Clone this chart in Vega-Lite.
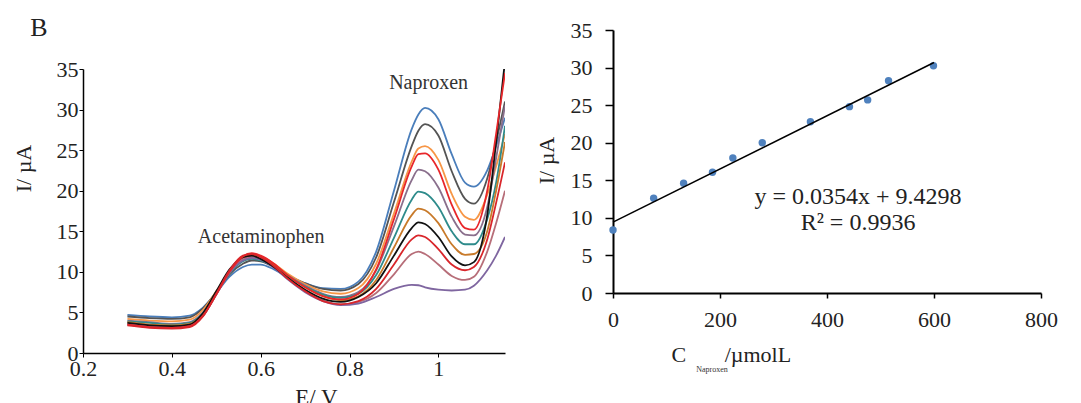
{
  "$schema": "https://vega.github.io/schema/vega-lite/v6.json",
  "padding": {"left": 12, "top": 15, "right": 5, "bottom": 0},
  "spacing": 30,
  "config": {
    "view": {"stroke": null},
    "font": "Liberation Serif",
    "text": {"font": "Liberation Serif"},
    "axis": {
      "grid": false,
      "domainColor": "#000",
      "tickColor": "#000",
      "labelColor": "#222",
      "titleColor": "#222",
      "labelFont": "Liberation Serif",
      "titleFont": "Liberation Serif",
      "titleFontWeight": "normal",
      "labelFontSize": 22,
      "titleFontSize": 22,
      "labelFlush": false,
      "labelOverlap": false,
      "labelSeparation": 0
    }
  },
  "hconcat": [
    {
      "spacing": 8,
      "vconcat": [
        {
          "width": 422,
          "height": 20,
          "data": {"values": [{"t": "B"}]},
          "mark": {"type": "text", "fontSize": 26, "color": "#222", "align": "center", "baseline": "middle", "dx": -255, "dy": -12},
          "encoding": {"text": {"field": "t"}}
        },
        {
          "width": 422,
          "height": 284,
          "encoding": {
            "x": {"field": "E", "type": "quantitative",
                  "scale": {"domain": [0.2, 1.15], "nice": false, "zero": false},
                  "axis": {"values": [0.2,0.4,0.6,0.8,1], "format": "~g", "title": "E/ V", "tickSize": 4, "labelPadding": 1, "domainWidth": 1.5, "labelOverlap": false,
                           "titleX": 233, "titleY": 44, "titleFontSize": 23, "titleBaseline": "middle", "titleAlign": "center"}},
            "y": {"field": "I", "type": "quantitative",
                  "scale": {"domain": [0, 35], "nice": false},
                  "axis": {"values": [0,5,10,15,20,25,30,35], "title": "I/ µA", "tickSize": 4, "labelPadding": 1, "domainWidth": 1.5, "labelOverlap": false,
                           "titleX": -60, "titleY": 99, "titleBaseline": "middle", "titleAlign": "center", "titleAngle": 270}}
          },
          "layer": [
            {
              "data": {"values": [
                {"E":0.30,"c600":4.7,"c515":4.5,"c475":4.2,"c440":3.5,"c370":4.0,"c280":3.9,"c225":3.8,"c185":3.7,"c130":3.4,"c75":3.6,"c0":3.5},
                {"E":0.35,"c600":4.5,"c515":4.3,"c475":4.0,"c440":3.2,"c370":3.8,"c280":3.7,"c225":3.5,"c185":3.4,"c130":3.1,"c75":3.3,"c0":3.2},
                {"E":0.40,"c600":4.4,"c515":4.2,"c475":3.9,"c440":3.1,"c370":3.6,"c280":3.5,"c225":3.4,"c185":3.3,"c130":3.0,"c75":3.2,"c0":3.1},
                {"E":0.44,"c600":4.6,"c515":4.4,"c475":4.1,"c440":3.3,"c370":3.8,"c280":3.7,"c225":3.6,"c185":3.5,"c130":3.2,"c75":3.4,"c0":3.3},
                {"E":0.47,"c600":5.6,"c515":5.5,"c475":5.3,"c440":4.6,"c370":5.0,"c280":4.9,"c225":4.8,"c185":4.9,"c130":4.5,"c75":4.6,"c0":4.6},
                {"E":0.50,"c600":7.4,"c515":7.5,"c475":7.6,"c440":7.2,"c370":7.4,"c280":7.3,"c225":7.4,"c185":7.6,"c130":7.3,"c75":7.2,"c0":7.2},
                {"E":0.53,"c600":9.4,"c515":9.7,"c475":10.0,"c440":10.0,"c370":9.9,"c280":9.8,"c225":10.0,"c185":10.3,"c130":10.2,"c75":10.0,"c0":9.9},
                {"E":0.56,"c600":10.6,"c515":11.0,"c475":11.6,"c440":11.9,"c370":11.4,"c280":11.3,"c225":11.7,"c185":11.8,"c130":12.0,"c75":11.6,"c0":11.4},
                {"E":0.58,"c600":10.9,"c515":11.4,"c475":12.1,"c440":12.3,"c370":11.8,"c280":11.6,"c225":12.1,"c185":12.0,"c130":12.2,"c75":11.9,"c0":11.7},
                {"E":0.60,"c600":10.9,"c515":11.3,"c475":11.9,"c440":12.0,"c370":11.6,"c280":11.4,"c225":11.8,"c185":11.6,"c130":11.8,"c75":11.6,"c0":11.5},
                {"E":0.63,"c600":10.3,"c515":10.6,"c475":11.0,"c440":11.0,"c370":10.8,"c280":10.6,"c225":10.9,"c185":10.6,"c130":10.7,"c75":10.6,"c0":10.5},
                {"E":0.66,"c600":9.4,"c515":9.6,"c475":9.8,"c440":9.6,"c370":9.6,"c280":9.5,"c225":9.6,"c185":9.3,"c130":9.2,"c75":9.2,"c0":9.1},
                {"E":0.70,"c600":8.6,"c515":8.6,"c475":8.5,"c440":8.1,"c370":8.3,"c280":8.2,"c225":8.1,"c185":7.8,"c130":7.6,"c75":7.6,"c0":7.5},
                {"E":0.74,"c600":8.0,"c515":7.9,"c475":7.6,"c440":7.0,"c370":7.3,"c280":7.2,"c225":7.0,"c185":6.7,"c130":6.4,"c75":6.5,"c0":6.4},
                {"E":0.78,"c600":7.9,"c515":7.7,"c475":7.3,"c440":6.6,"c370":6.9,"c280":6.8,"c225":6.5,"c185":6.3,"c130":6.0,"c75":6.0,"c0":5.9},
                {"E":0.82,"c600":8.8,"c515":8.5,"c475":8.0,"c440":7.3,"c370":7.5,"c280":7.3,"c225":7.0,"c185":6.9,"c130":6.4,"c75":6.3,"c0":6.1},
                {"E":0.86,"c600":12.5,"c515":11.8,"c475":11.0,"c440":10.3,"c370":10.2,"c280":9.6,"c225":9.0,"c185":8.6,"c130":7.9,"c75":7.4,"c0":6.9},
                {"E":0.90,"c600":20.0,"c515":18.6,"c475":17.2,"c440":16.5,"c370":15.6,"c280":14.2,"c225":13.0,"c185":12.0,"c130":10.9,"c75":9.7,"c0":7.9},
                {"E":0.94,"c600":27.6,"c515":25.5,"c475":23.6,"c440":23.0,"c370":21.3,"c280":18.9,"c225":17.0,"c185":15.4,"c130":14.0,"c75":12.2,"c0":8.4},
                {"E":0.955,"c600":29.4,"c515":27.4,"c475":25.2,"c440":24.5,"c370":22.6,"c280":19.9,"c225":17.8,"c185":16.1,"c130":14.5,"c75":12.5,"c0":8.35},
                {"E":0.97,"c600":30.2,"c515":28.2,"c475":25.5,"c440":24.6,"c370":22.4,"c280":19.7,"c225":17.6,"c185":15.9,"c130":14.3,"c75":12.2,"c0":8.1},
                {"E":1.00,"c600":28.8,"c515":26.8,"c475":23.8,"c440":22.6,"c370":20.4,"c280":18.0,"c225":16.0,"c185":14.3,"c130":12.8,"c75":10.9,"c0":7.8},
                {"E":1.03,"c600":24.5,"c515":22.4,"c475":19.6,"c440":18.3,"c370":16.8,"c280":15.0,"c225":13.4,"c185":11.9,"c130":10.9,"c75":9.5,"c0":7.7},
                {"E":1.06,"c600":21.0,"c515":19.0,"c475":16.8,"c440":15.4,"c370":14.6,"c280":13.4,"c225":12.1,"c185":10.8,"c130":10.2,"c75":9.0,"c0":7.8},
                {"E":1.08,"c600":20.5,"c515":18.4,"c475":16.4,"c440":15.2,"c370":14.5,"c280":13.4,"c225":12.2,"c185":11.2,"c130":10.6,"c75":9.4,"c0":8.3},
                {"E":1.11,"c600":22.5,"c515":21.5,"c475":19.5,"c440":20.0,"c370":18.0,"c280":16.5,"c225":15.0,"c185":17.0,"c130":14.0,"c75":12.5,"c0":10.2},
                {"E":1.13,"c600":25.5,"c515":26.0,"c475":23.0,"c440":27.0,"c370":24.0,"c280":21.0,"c225":20.0,"c185":26.0,"c130":18.5,"c75":16.0,"c0":12.0},
                {"E":1.15,"c600":29.0,"c515":31.0,"c475":27.0,"c440":34.5,"c370":30.5,"c280":28.0,"c225":26.0,"c185":36.0,"c130":23.5,"c75":20.0,"c0":14.3}
              ]},
              "transform": [{"fold": ["c600","c515","c475","c370","c280","c225","c75","c0","c185","c440","c130"], "as": ["series","I"]}],
              "mark": {"type": "line", "interpolate": "monotone", "strokeWidth": 1.8, "clip": true},
              "encoding": {
                "color": {"field": "series", "type": "nominal", "legend": null,
                          "scale": {"domain": ["c600","c515","c475","c440","c370","c280","c225","c185","c130","c75","c0"],
                                    "range": ["#4a7ebb","#545454","#f79646","#e8262a","#8a6f8c","#2e8b8b","#c87a2a","#111111","#d9262b","#b76e79","#7f66a0"]}}
              }
            },
            {
              "data": {"values": [
                {"label": "Naproxen", "E": 0.978, "I": 33.3},
                {"label": "Acetaminophen", "E": 0.601, "I": 14.3}
              ]},
              "mark": {"type": "text", "fontSize": 20, "color": "#333"},
              "encoding": {"text": {"field": "label"}}
            }
          ]
        }
      ]
    },
    {
      "width": 428,
      "height": 263,
      "encoding": {
        "x": {"field": "C", "type": "quantitative",
              "scale": {"domain": [0, 800], "nice": false},
              "axis": {"values": [0,200,400,600,800], "title": "C\u00a0\u00a0\u00a0\u00a0\u00a0\u00a0\u00a0/µmolL", "tickSize": 5, "labelPadding": 11, "domainWidth": 2, "tickWidth": 1.5, "labelOverlap": false,
                       "titleX": 58, "titleY": 61, "titleBaseline": "middle", "titleAlign": "left"}},
        "y": {"field": "I", "type": "quantitative",
              "scale": {"domain": [0, 35], "nice": false},
              "axis": {"values": [0,5,10,15,20,25,30,35], "title": "I/ µA", "tickSize": 8, "labelPadding": 13, "domainWidth": 2, "tickWidth": 1.5, "labelOverlap": false,
                       "titleX": -67, "titleY": 130, "titleBaseline": "middle", "titleAlign": "center", "titleAngle": 270}}
      },
      "layer": [
        {
          "data": {"values": [
            {"C": 0, "I": 8.38}, {"C": 76, "I": 12.6}, {"C": 132, "I": 14.6}, {"C": 186, "I": 16.06},
            {"C": 224, "I": 17.97}, {"C": 279, "I": 20.0}, {"C": 369, "I": 22.8}, {"C": 442, "I": 24.8},
            {"C": 476, "I": 25.7}, {"C": 515, "I": 28.25}, {"C": 599, "I": 30.25}
          ]},
          "mark": {"type": "circle", "size": 55, "color": "#4f81bd", "opacity": 1}
        },
        {
          "data": {"values": [{"C": 0, "I": 9.4298}, {"C": 600, "I": 30.6698}]},
          "mark": {"type": "line", "color": "#000", "strokeWidth": 1.5}
        },
        {
          "data": {"values": [
            {"label": "y = 0.0354x + 9.4298", "C": 458, "I": 12.78},
            {"label": "R² = 0.9936", "C": 458, "I": 9.3}
          ]},
          "mark": {"type": "text", "fontSize": 24, "color": "#222"},
          "encoding": {"text": {"field": "label"}}
        },
        {
          "data": {"values": [{"label": "Naproxen", "C": 185, "I": -10.3}]},
          "mark": {"type": "text", "fontSize": 8, "color": "#333"},
          "encoding": {"text": {"field": "label"}}
        }
      ]
    }
  ]
}
